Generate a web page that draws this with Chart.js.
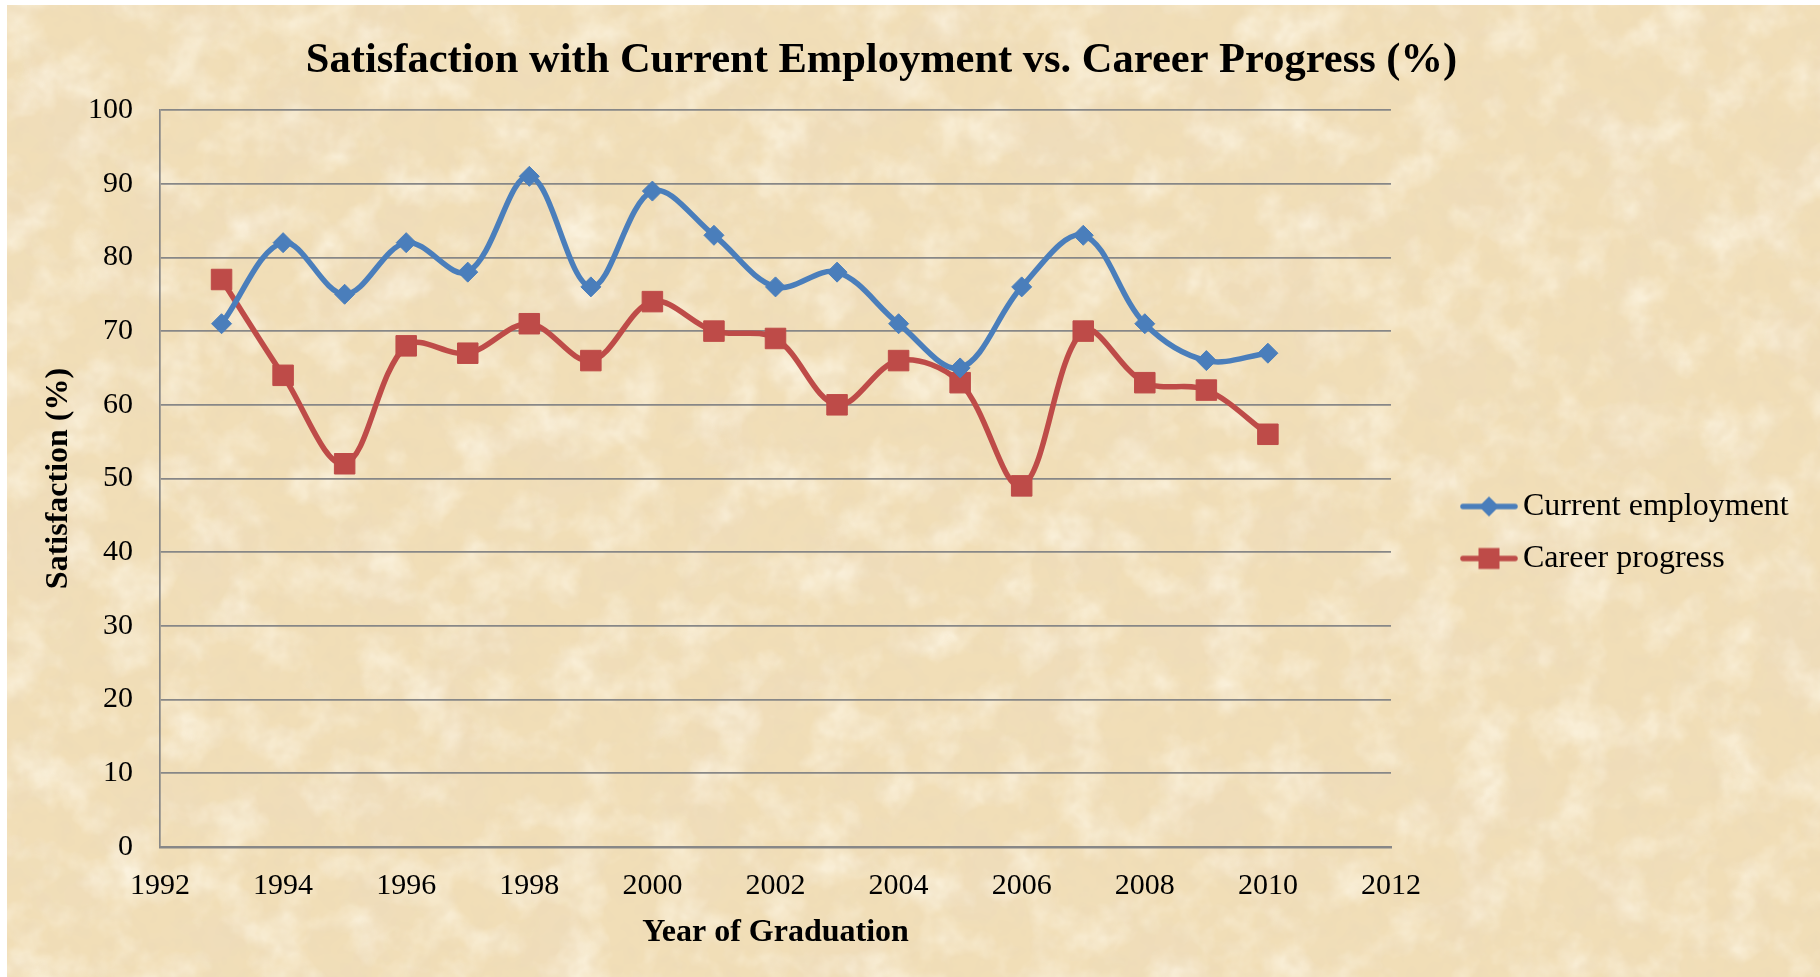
<!DOCTYPE html>
<html>
<head>
<meta charset="utf-8">
<title>Satisfaction with Current Employment vs. Career Progress (%)</title>
<script src="https://cdn.jsdelivr.net/npm/chart.js@4.4.1/dist/chart.umd.min.js"></script>
<style>
  html, body { margin: 0; padding: 0; background: #fff; overflow: hidden; }
  #wrap  { position: relative; width: 1820px; height: 977px; }
  #paper { position: absolute; left: 7px; top: 5px; }
  #chart { position: absolute; left: 0; top: 0; }
</style>
</head>
<body>
<div id="wrap">
  <!-- parchment background -->
  <svg id="paper" width="1813" height="972" xmlns="http://www.w3.org/2000/svg">
    <defs>
      <filter id="dark" x="0" y="0" width="1" height="1">
        <feTurbulence type="fractalNoise" baseFrequency="0.012" numOctaves="4" seed="3"/>
        <feColorMatrix type="matrix" values="0 0 0 0 0.86  0 0 0 0 0.72  0 0 0 0 0.50  2.2 0 0 0 -1.0"/>
      </filter>
      <filter id="light" x="0" y="0" width="1" height="1">
        <feTurbulence type="fractalNoise" baseFrequency="0.02" numOctaves="4" seed="11"/>
        <feColorMatrix type="matrix" values="0 0 0 0 0.99  0 0 0 0 0.94  0 0 0 0 0.82  1.6 0 0 0 -0.72"/>
      </filter>
      <filter id="grain" x="0" y="0" width="1" height="1">
        <feTurbulence type="fractalNoise" baseFrequency="0.06" numOctaves="2" seed="5"/>
        <feColorMatrix type="matrix" values="0 0 0 0 0.84  0 0 0 0 0.70  0 0 0 0 0.48  1.2 0 0 0 -0.5"/>
      </filter>
    </defs>
    <rect width="100%" height="100%" fill="#f1deb7"/>
    <rect width="100%" height="100%" filter="url(#dark)"/>
    <rect width="100%" height="100%" filter="url(#light)"/>
    <rect width="100%" height="100%" filter="url(#grain)"/>
  </svg>
  <canvas id="chart" width="1820" height="977"></canvas>
</div>

<script>
// ---------- 資料 ----------
const years             = [1993, 1994, 1995, 1996, 1997, 1998, 1999, 2000, 2001,
                           2002, 2003, 2004, 2005, 2006, 2007, 2008, 2009, 2010];
const currentEmployment = [71, 82, 75, 82, 78, 91, 76, 89, 83,
                           76, 78, 71, 65, 76, 83, 71, 66, 67];
const careerProgress    = [77, 64, 52, 68, 67, 71, 66, 74, 70,
                           69, 60, 66, 63, 49, 70, 63, 62, 56];
const xTickYears        = [1992, 1994, 1996, 1998, 2000, 2002, 2004, 2006, 2008, 2010, 2012];
const seriesNames       = ['Current employment', 'Career progress'];

// ---------- 樣式 ----------
const BLUE  = '#4a7ebb';
const RED   = '#be4b48';
const GRID  = '#878787';
const SERIF = "'Liberation Serif', 'Times New Roman', serif";

// 圖例小圖示：線 + 標記
function makeIcon(color, marker) {
  const c = document.createElement('canvas');
  c.width = 58; c.height = 24;
  const g = c.getContext('2d');
  g.strokeStyle = color;
  g.lineWidth = 5.5;
  g.lineCap = 'round';
  g.beginPath(); g.moveTo(3, 12); g.lineTo(55, 12); g.stroke();
  g.fillStyle = color;
  g.beginPath();
  if (marker === 'diamond') {
    g.moveTo(29, 2); g.lineTo(39, 12); g.lineTo(29, 22); g.lineTo(19, 12);
  } else {
    g.rect(18.5, 1.5, 21, 21);
  }
  g.fill();
  return c;
}
const legendIcons = [makeIcon(BLUE, 'diamond'), makeIcon(RED, 'square')];

// 標題與圖例的位置微調（對齊原圖）
const placeBoxes = {
  id: 'placeBoxes',
  afterLayout(chart) {
    const t = chart.titleBlock;
    const tw = t.right - t.left;
    t.left = 881.5 - tw / 2;
    t.right = t.left + tw;

    const lg = chart.legend;
    lg.left = 1451; lg.right = 1815; lg.width = lg.right - lg.left;
    lg.top = 469;   lg.bottom = lg.top + 127; lg.height = 127;
  }
};

const toPoints = vals => vals.map((v, i) => ({ x: years[i], y: v }));

new Chart(document.getElementById('chart'), {
  type: 'line',
  data: {
    datasets: [
      {
        label: seriesNames[0],
        data: toPoints(currentEmployment),
        borderColor: BLUE,
        borderWidth: 5.5,
        tension: 0.35,
        fill: false,
        pointStyle: 'rectRot',
        pointRadius: 10,
        pointBackgroundColor: BLUE,
        pointBorderColor: BLUE,
        pointBorderWidth: 1
      },
      {
        label: seriesNames[1],
        data: toPoints(careerProgress),
        borderColor: RED,
        borderWidth: 5.5,
        tension: 0.35,
        fill: false,
        pointStyle: 'rect',
        pointRadius: 14.5,
        pointBackgroundColor: RED,
        pointBorderColor: RED,
        pointBorderWidth: 1
      }
    ]
  },
  options: {
    responsive: false,
    animation: false,
    layout: { padding: { left: 0, right: 129, top: 0, bottom: 0 } },
    plugins: {
      title: {
        display: true,
        text: 'Satisfaction with Current Employment vs. Career Progress (%)',
        color: '#000',
        font: { family: SERIF, size: 42.5, weight: 'bold' },
        padding: { top: 36, bottom: 23 }
      },
      legend: {
        position: 'right',
        fullSize: false,
        maxWidth: 300,
        labels: {
          color: '#000',
          font: { family: SERIF, size: 32 },
          usePointStyle: true,
          pointStyleWidth: 36,
          padding: 20,
          generateLabels(chart) {
            const items = Chart.defaults.plugins.legend.labels.generateLabels(chart);
            items.forEach((it, i) => { it.pointStyle = legendIcons[i]; });
            return items;
          }
        }
      },
      tooltip: { enabled: false }
    },
    scales: {
      x: {
        type: 'linear',
        min: 1992,
        max: 2012,
        afterBuildTicks: s => { s.ticks = xTickYears.map(v => ({ value: v })); },
        afterFit: s => { s.height = 130; },
        grid: { display: false, drawTicks: false },
        border: { display: true, color: GRID, width: 2.5 },
        ticks: {
          color: '#000',
          font: { family: SERIF, size: 30 },
          padding: 21,
          maxRotation: 0,
          autoSkip: false,
          callback: v => String(v)
        },
        title: {
          display: true,
          text: 'Year of Graduation',
          color: '#000',
          font: { family: SERIF, size: 32, weight: 'bold' },
          padding: { top: 0, bottom: 25 }
        }
      },
      y: {
        min: 0,
        max: 100,
        afterFit: s => { s.width = 160; },
        grid: { color: GRID, lineWidth: 1.7, drawTicks: false },
        border: { display: true, color: GRID, width: 1.7 },
        ticks: {
          stepSize: 10,
          color: '#000',
          font: { family: SERIF, size: 30 },
          padding: 27
        },
        title: {
          display: true,
          text: 'Satisfaction (%)',
          color: '#000',
          font: { family: SERIF, size: 32, weight: 'bold' },
          padding: { top: 40, bottom: 0 }
        }
      }
    }
  },
  plugins: [placeBoxes]
});
</script>
</body>
</html>
